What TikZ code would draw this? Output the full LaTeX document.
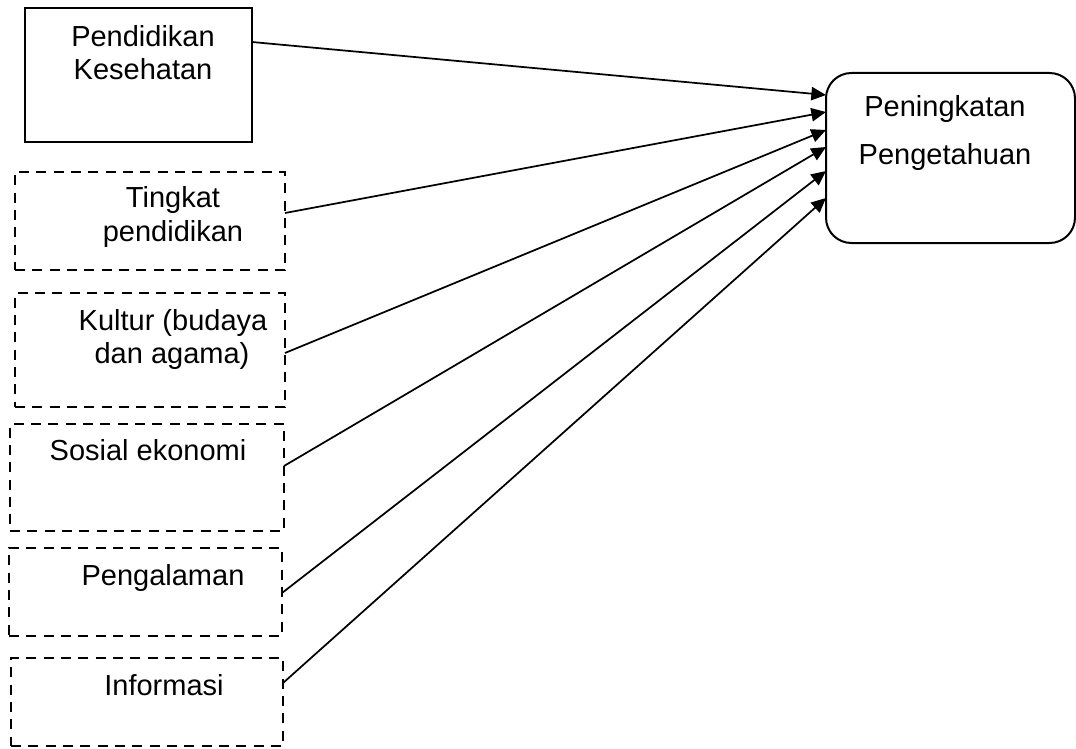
\documentclass[tikz,border=0pt]{standalone}
\usepackage{fontspec}
\setmainfont{Liberation Sans}
\usetikzlibrary{arrows.meta,calc}
\begin{document}
\begin{tikzpicture}[x=0.75pt,y=-0.75pt,
  sz/.style 2 args={minimum width=#1*0.75pt,minimum height=#2*0.75pt},
  solidbox/.style={draw,line width=1.9pt,inner sep=0pt,outer sep=0pt},
  dbox/.style={draw,line width=1.9pt,dash pattern=on 7.5pt off 5.5pt,inner sep=0pt,outer sep=0pt},
  rbox/.style={draw,line width=1.5pt,rounded corners=19pt,inner sep=0pt,outer sep=0pt},
  txt/.style={font=\fontsize{21.75}{26}\selectfont,anchor=base,inner sep=0pt},
  arr/.style={line width=1.3pt,-{Triangle[length=11pt,width=10pt]}}]
\useasboundingbox (0,0) rectangle (1076,749);

% boxes
\node[solidbox,sz={227}{134}] (b1) at (138.5,75) {};
\node[dbox,sz={270}{98}]  (b2) at (150,221) {};
\node[dbox,sz={270}{114}] (b3) at (150,350) {};
\node[dbox,sz={274}{107}] (b4) at (147,477.5) {};
\node[dbox,sz={273}{88}]  (b5) at (145.5,592) {};
\node[dbox,sz={272}{88}]  (b6) at (147,702) {};
\node[rbox,sz={249}{170}] (pk) at (950.5,158) {};

% texts
\node[txt] (t1a) at (143,47) {Pendidikan};
\node[txt] (t1b) at (143,80) {Kesehatan};
\node[txt] (t2a) at (173,208) {Tingkat};
\node[txt] (t2b) at (173,241) {pendidikan};
\node[txt] (t3a) at (173,330) {Kultur (budaya};
\node[txt] (t3b) at (172,363) {dan agama)};
\node[txt] (t4) at (148,460) {Sosial ekonomi};
\node[txt] (t5) at (163,585) {Pengalaman};
\node[txt] (t6) at (164,695) {Informasi};
\node[txt] (tpa) at (945,117) {Peningkatan};
\node[txt] (tpb) at (945,165) {Pengetahuan};

% connectors
\draw[arr] ($(b1.north east)+(0,34)$) -- ($(pk.north west)+(0,22)$);
\draw[arr] ($(b2.north east)+(0,41)$) -- ($(pk.north west)+(0,39)$);
\draw[arr] ($(b3.north east)+(0,60)$) -- ($(pk.north west)+(0,57)$);
\draw[arr] ($(b4.north east)+(0,42)$) -- ($(pk.north west)+(0,74)$);
\draw[arr] ($(b5.north east)+(0,45)$) -- ($(pk.north west)+(0,98)$);
\draw[arr] ($(b6.north east)+(0,25)$) -- ($(pk.north west)+(0,125)$);
\end{tikzpicture}
\end{document}
